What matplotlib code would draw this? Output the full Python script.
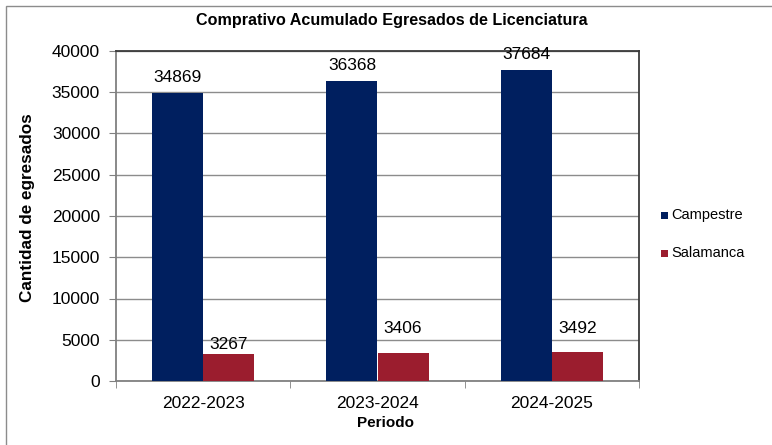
import matplotlib
matplotlib.use("Agg")
import matplotlib.pyplot as plt
from matplotlib.patches import Rectangle
import numpy as np

plt.rcParams['font.family'] = ['Liberation Sans', 'DejaVu Sans']

periodos = ["2022-2023", "2023-2024", "2024-2025"]
campestre = [34869, 36368, 37684]
salamanca = [3267, 3406, 3492]
series_names = ["Campestre", "Salamanca"]
colors = ["#001F5F", "#9B1D2E"]
# label offsets above bar tops (in points), as placed in the original
camp_offsets = [6, 6, 6]
sal_offsets = [1.5, 12, 12]

W, H = 772, 445
fig = plt.figure(figsize=(W / 100, H / 100), dpi=100)

# outer frame
fig.patches.append(Rectangle((6 / W, -0.1), 1.2, (H - 6) / H + 0.1,
                             transform=fig.transFigure, fill=False,
                             edgecolor="#8c8c8c", linewidth=1.0))

L, R, T, B = 116, 639, 51, 381
ax = fig.add_axes([L / W, (H - B) / H, (R - L) / W, (B - T) / H])

x = np.arange(len(periodos))
bw = 0.293
for vals, off, col, offs in [(campestre, -bw / 2, colors[0], camp_offsets),
                             (salamanca, bw / 2, colors[1], sal_offsets)]:
    bars = ax.bar(x + off, vals, width=bw, color=col, zorder=3)
    for b, v, o in zip(bars, vals, offs):
        ax.annotate(str(v), (b.get_x() + b.get_width() / 2, v),
                    xytext=(0, o), textcoords="offset points",
                    ha="center", va="bottom", fontsize=12.5, color="black")

ax.set_xlim(-0.5, 2.5)
ax.set_ylim(0, 40000)
ax.set_yticks(np.arange(0, 40001, 5000))
ax.tick_params(axis="y", labelsize=12.5, length=5, color="#808080", pad=6.5)
ax.set_xticks(x)
ax.set_xticklabels(periodos, fontsize=12.5)
ax.tick_params(axis="x", length=0, pad=11)
ax.set_xticks([-0.5, 0.5, 1.5, 2.5], minor=True)
ax.tick_params(axis="x", which="minor", length=5, color="#808080")
ax.yaxis.grid(True, color="#8c8c8c", linewidth=1.0, zorder=0)
ax.set_axisbelow(True)

for s in ["left", "bottom"]:
    ax.spines[s].set_color("#808080")
    ax.spines[s].set_linewidth(1.3)
for s in ["top", "right"]:
    ax.spines[s].set_color("#3a3a3a")
    ax.spines[s].set_linewidth(1.3)

fig.text(392 / W, 1 - 21 / H, "Comprativo Acumulado Egresados de Licenciatura",
         ha="center", va="center", fontsize=11.6, fontweight="bold")
fig.text(28 / W, 1 - 208 / H, "Cantidad de egresados", ha="center", va="center",
         rotation=90, fontsize=12.3, fontweight="bold")
fig.text(386 / W, 1 - 423 / H, "Periodo", ha="center", va="center",
         fontsize=11, fontweight="bold")

# legend
for name, col, yy in zip(series_names, colors, [215, 253]):
    fig.patches.append(Rectangle((661 / W, 1 - (yy + 3.5) / H), 7 / W, 7 / H,
                                 transform=fig.transFigure, facecolor=col,
                                 edgecolor="none"))
    fig.text(671 / W, 1 - yy / H, name, ha="left", va="center", fontsize=10.5)

fig.savefig("out.png", dpi=100)
